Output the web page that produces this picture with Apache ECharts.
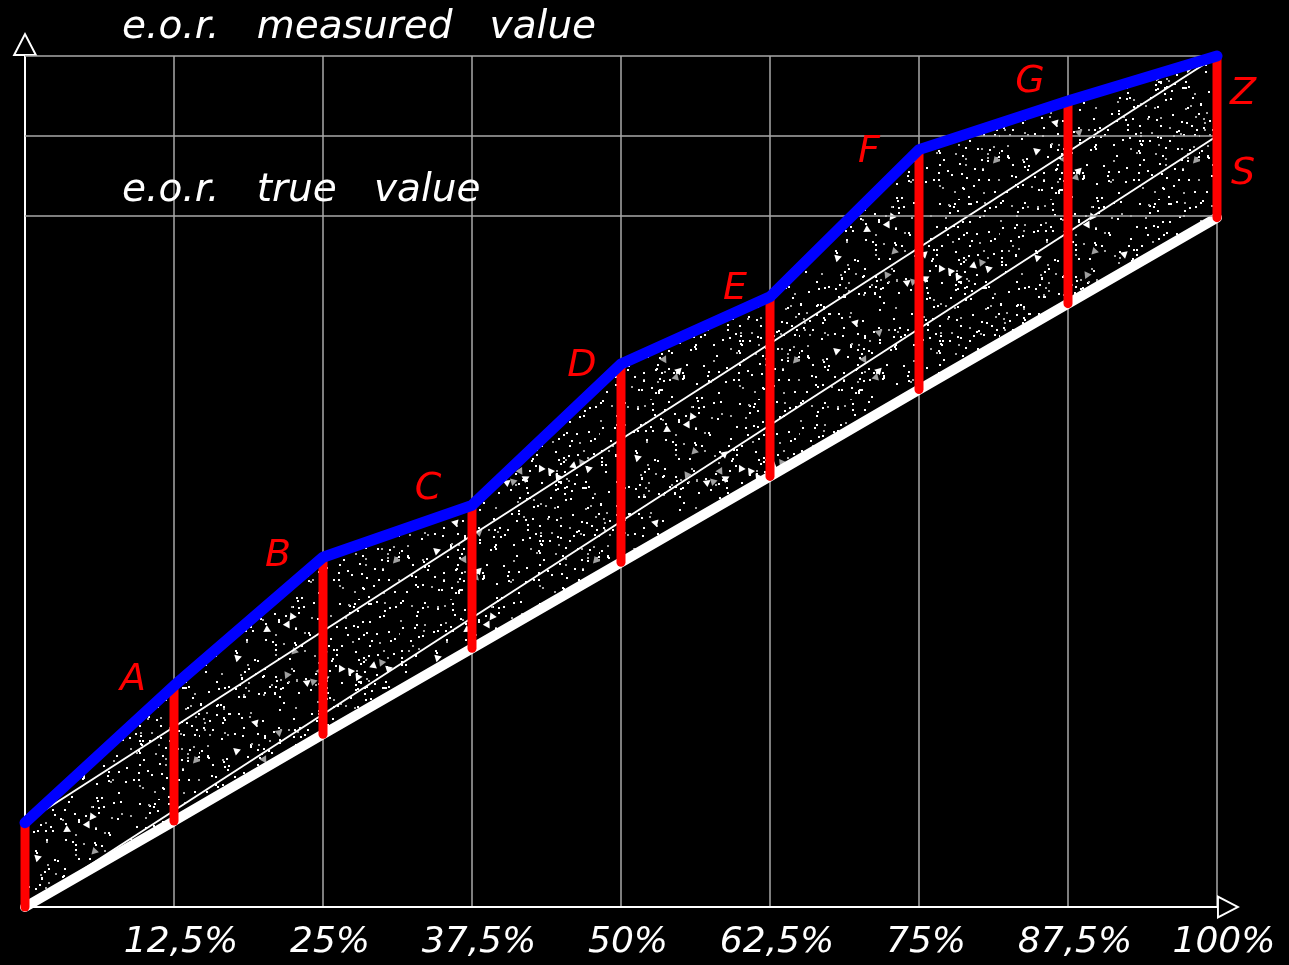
<!DOCTYPE html>
<html>
<head>
<meta charset="utf-8">
<style>
html,body{margin:0;padding:0;background:#000;}
#chart{width:1289px;height:965px;}
</style>
<script src="https://cdn.jsdelivr.net/npm/echarts@6/dist/echarts.min.js"></script>
</head>
<body>
<div id="chart"></div>
<script>
// ---- data ----
const xValues = [0, 12.5, 25, 37.5, 50, 62.5, 75, 87.5, 100];
const xTickLabels = ['', '12,5%', '25%', '37,5%', '50%', '62,5%', '75%', '87,5%', '100%'];
const measuredValues = [9.9, 26.0, 41.1, 47.2, 63.8, 71.7, 89.0, 94.7, 100];
const trueValues = [0, 10.1, 20.3, 30.4, 40.5, 50.6, 60.8, 70.9, 81.0];
const pointNames = ['', 'A', 'B', 'C', 'D', 'E', 'F', 'G', ''];
const levelValues = [100, 90.6, 81.2];           // measured / middle / true levels
const upperGuide = [[0, 9.9], [100, 100]];
const lowerGuide = [[0, 0], [100, 90.6]];
const sideNames = ['Z', 'S'];
const titleMeasured = 'e.o.r.   measured   value';
const titleTrue = 'e.o.r.   true   value';

// ---- style helpers ----
const labelOffsets = [[0,0],[-41,-6],[-45,-1],[-44,-16],[-39,2],[-35,-8],[-50,3],[-38,-19],[0,0]];
const FONT = 'DejaVu Sans';

function makePattern() {
  const c = document.createElement('canvas');
  c.width = 200; c.height = 200;
  const g = c.getContext('2d');
  let s = 12345;
  const rnd = () => { s = (s * 1103515245 + 12345) % 2147483648; return s / 2147483648; };
  for (let i = 0; i < 480; i++) {
    const x = Math.floor(rnd() * 200), y = Math.floor(rnd() * 200);
    g.fillStyle = rnd() < 0.75 ? '#ffffff' : '#a8a8a8';
    g.fillRect(x, y, 2, 2);
  }
  for (let i = 0; i < 24; i++) {
    const x = rnd() * 194 + 3, y = rnd() * 194 + 3;
    const r = rnd() * Math.PI * 2;
    g.fillStyle = rnd() < 0.7 ? '#ffffff' : '#a0a0a0';
    g.beginPath();
    for (let k = 0; k < 3; k++) {
      const a = r + k * Math.PI * 2 / 3;
      const px = x + Math.cos(a) * 4.5, py = y + Math.sin(a) * 4.5;
      if (k === 0) g.moveTo(px, py); else g.lineTo(px, py);
    }
    g.closePath();
    g.fill();
  }
  return c;
}
const pattern = makePattern();

const arrowPath = 'path://M12.5,0 L25,24 L0,24 Z M12.5,4.3 L3.3,22 L21.7,22 Z';

const trueData = xValues.map((x, i) => [x, trueValues[i]]);
const measuredData = xValues.map((x, i) => [x, measuredValues[i]]);
const barData = xValues.map((x, i) => [x, trueValues[i], measuredValues[i]]);
const nameData = xValues.map((x, i) => ({
  value: [x, measuredValues[i]],
  name: pointNames[i],
  label: { offset: labelOffsets[i] }
}));
const sideData = [
  { value: [100, (levelValues[0] + levelValues[1]) / 2], name: sideNames[0] },
  { value: [100, (levelValues[1] + levelValues[2]) / 2], name: sideNames[1] }
];

const chart = echarts.init(document.getElementById('chart'));
const option = {
  backgroundColor: '#000000',
  animation: false,
  grid: { left: 25, right: 72, top: 56, bottom: 58 },
  xAxis: {
    type: 'value', min: 0, max: 100, interval: 12.5,
    axisLine: { show: true, lineStyle: { color: '#ffffff', width: 2 },
      symbol: ['none', arrowPath], symbolSize: [25, 23], symbolOffset: [0, 11.5] },
    axisTick: { show: false },
    splitLine: { show: true, lineStyle: { color: '#a8a8a8', width: 1.5 } },
    axisLabel: {
      color: '#ffffff', fontFamily: FONT, fontStyle: 'italic', fontSize: 36,
      margin: 18, padding: [0, 0, 0, 14],
      formatter: v => xTickLabels[Math.round(v / 12.5)] || ''
    }
  },
  yAxis: {
    type: 'value', min: 0, max: 100,
    axisLine: { show: true, lineStyle: { color: '#ffffff', width: 2 },
      symbol: ['none', arrowPath], symbolSize: [25, 24], symbolOffset: [0, 12] },
    axisTick: { show: false },
    axisLabel: { show: false },
    splitLine: { show: false }
  },
  graphic: [
    { type: 'text', left: 122, top: 8, z: 10,
      style: { text: titleMeasured, fill: '#ffffff', font: 'italic 39px "DejaVu Sans"' } },
    { type: 'text', left: 122, top: 171, z: 10,
      style: { text: titleTrue, fill: '#ffffff', font: 'italic 39px "DejaVu Sans"' } }
  ],
  series: [
    {
      type: 'line', name: 'levels', data: [], z: 1, silent: true,
      markLine: {
        silent: true, symbol: ['none', 'none'], label: { show: false },
        lineStyle: { color: '#a8a8a8', width: 1.5, type: 'solid' },
        data: levelValues.map(v => ({ yAxis: v }))
      }
    },
    {
      type: 'custom', name: 'band', data: barData, z: 2, clip: false, silent: true,
      renderItem: function (params, api) {
        if (params.dataIndex !== 0) return null;
        const pts = [];
        for (let i = 0; i < xValues.length; i++) pts.push(api.coord([xValues[i], measuredValues[i]]));
        for (let i = xValues.length - 1; i >= 0; i--) pts.push(api.coord([xValues[i], trueValues[i]]));
        return { type: 'polygon', shape: { points: pts },
          style: { fill: { image: pattern, repeat: 'repeat' } } };
      }
    },
    {
      type: 'line', name: 'upperGuide', data: upperGuide, z: 3,
      showSymbol: false, clip: false,
      lineStyle: { color: '#ffffff', width: 2 }
    },
    {
      type: 'line', name: 'lowerGuide', data: lowerGuide, z: 3,
      showSymbol: false, clip: false,
      lineStyle: { color: '#ffffff', width: 2 }
    },
    {
      type: 'line', name: 'true', data: trueData, z: 4,
      showSymbol: false, clip: false,
      lineStyle: { color: '#ffffff', width: 10, cap: 'round' }
    },
    {
      type: 'custom', name: 'errors', data: barData, z: 5, clip: false,
      renderItem: function (params, api) {
        const p1 = api.coord([api.value(0), api.value(1)]);
        const p2 = api.coord([api.value(0), api.value(2)]);
        return { type: 'line', shape: { x1: p1[0], y1: p1[1], x2: p2[0], y2: p2[1] },
          style: { stroke: '#ff0000', lineWidth: 9, lineCap: 'round' } };
      }
    },
    {
      type: 'line', name: 'measured', data: measuredData, z: 6,
      showSymbol: false, clip: false,
      lineStyle: { color: '#0000ff', width: 11, cap: 'round', join: 'round' }
    },
    {
      type: 'scatter', name: 'names', data: nameData, z: 7,
      symbolSize: 1, itemStyle: { color: 'rgba(0,0,0,0)', opacity: 1 }, silent: true,
      label: { show: true, position: 'inside', formatter: p => p.name, opacity: 1,
        color: '#ff0000', fontFamily: FONT, fontStyle: 'italic', fontSize: 38 }
    },
    {
      type: 'scatter', name: 'sides', data: sideData, z: 7,
      symbolSize: 1, itemStyle: { color: 'rgba(0,0,0,0)', opacity: 1 }, silent: true,
      label: { show: true, position: 'inside', offset: [26, -2], formatter: p => p.name, opacity: 1,
        color: '#ff0000', fontFamily: FONT, fontStyle: 'italic', fontSize: 38 }
    }
  ]
};
chart.setOption(option);
</script>
</body>
</html>
